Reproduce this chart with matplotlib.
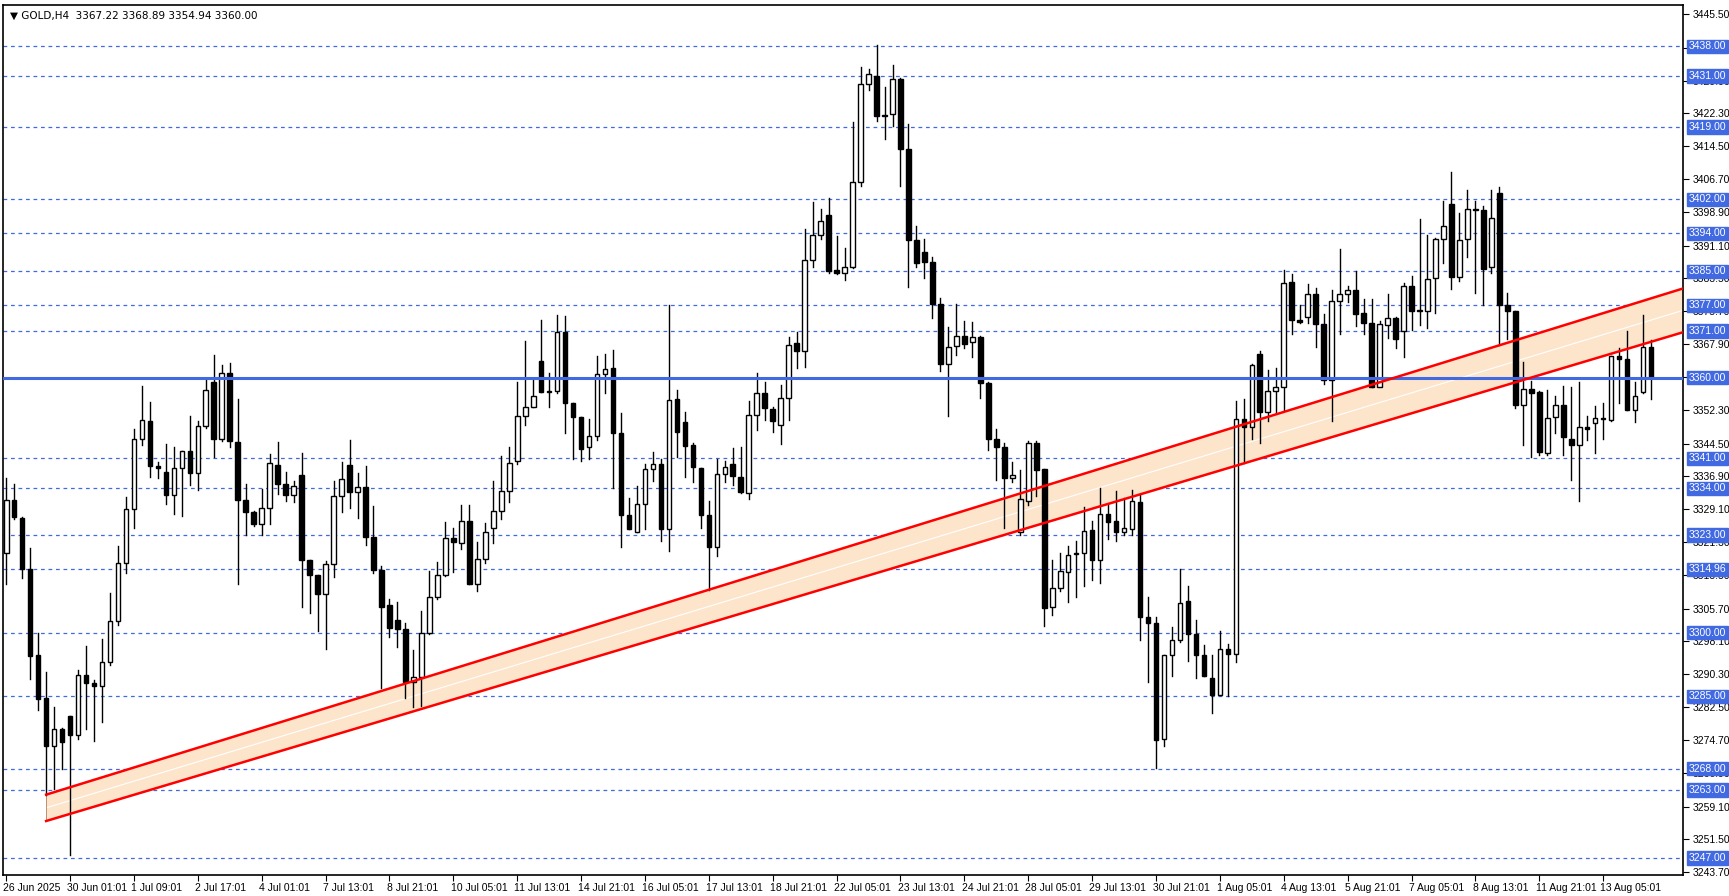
import matplotlib
matplotlib.use("Agg")
import matplotlib.pyplot as plt
import matplotlib.transforms as mtransforms
from matplotlib.patches import Rectangle

plt.rcParams['font.family'] = ['Liberation Sans', 'DejaVu Sans']

# GOLD H4 candles: open, high, low, close
candles = [
    (3318.7, 3336.5, 3311.4, 3331.2), (3331.2, 3334.9, 3326.8, 3327.3), (3327.0, 3327.2, 3312.8, 3315.0),
    (3315.0, 3319.9, 3289.1, 3294.6), (3294.8, 3299.9, 3281.8, 3284.4), (3284.6, 3290.7, 3261.9, 3273.4),
    (3273.4, 3282.6, 3263.2, 3277.3), (3277.3, 3277.5, 3268.0, 3274.3), (3280.4, 3280.5, 3247.8, 3275.9),
    (3275.9, 3291.3, 3275.1, 3290.1), (3290.1, 3296.8, 3277.3, 3288.1), (3288.1, 3288.8, 3274.5, 3287.5),
    (3287.5, 3298.6, 3279.0, 3293.1), (3293.1, 3309.3, 3292.3, 3302.7), (3302.7, 3320.4, 3301.8, 3316.4),
    (3316.4, 3332.0, 3314.0, 3329.0), (3329.0, 3348.0, 3324.7, 3345.6), (3345.6, 3358.0, 3344.2, 3350.0),
    (3349.9, 3354.3, 3336.7, 3339.3), (3339.3, 3340.1, 3336.5, 3338.7), (3337.9, 3344.4, 3330.4, 3332.3),
    (3332.3, 3343.6, 3328.0, 3338.7), (3338.7, 3342.8, 3327.4, 3342.7), (3342.7, 3350.9, 3334.7, 3337.7),
    (3337.7, 3349.9, 3333.7, 3348.6), (3348.6, 3359.6, 3348.2, 3357.0), (3359.0, 3365.3, 3341.3, 3345.7),
    (3345.7, 3363.0, 3345.0, 3361.0), (3361.0, 3363.4, 3343.6, 3345.0), (3344.8, 3355.1, 3311.4, 3331.2),
    (3331.2, 3334.9, 3323.1, 3328.5), (3328.5, 3328.6, 3325.1, 3325.7), (3325.7, 3333.8, 3323.1, 3329.4),
    (3329.4, 3342.0, 3325.7, 3339.9), (3339.5, 3344.9, 3332.7, 3334.9), (3334.9, 3337.9, 3331.1, 3332.5),
    (3332.5, 3335.7, 3330.7, 3334.6), (3337.1, 3342.3, 3306.1, 3317.0), (3317.0, 3317.1, 3304.7, 3313.5),
    (3313.5, 3313.6, 3300.4, 3309.2), (3309.2, 3316.9, 3296.1, 3316.1), (3316.1, 3335.8, 3313.0, 3332.1),
    (3332.1, 3340.1, 3328.4, 3336.1), (3339.5, 3345.4, 3329.3, 3333.0), (3333.0, 3337.5, 3326.9, 3334.4),
    (3334.4, 3339.2, 3320.7, 3322.5), (3322.5, 3329.8, 3314.1, 3314.8), (3314.8, 3315.6, 3286.9, 3306.1),
    (3306.5, 3307.9, 3299.1, 3301.2), (3302.9, 3307.3, 3296.7, 3300.8), (3300.8, 3302.4, 3284.6, 3288.5),
    (3288.5, 3296.0, 3282.5, 3289.5), (3289.5, 3305.0, 3282.8, 3299.9), (3299.9, 3314.6, 3299.6, 3308.3),
    (3308.3, 3316.6, 3307.9, 3313.5), (3313.5, 3326.0, 3313.4, 3322.2), (3322.2, 3324.7, 3314.4, 3321.3),
    (3321.0, 3330.1, 3319.6, 3326.4), (3326.3, 3330.1, 3311.4, 3311.4), (3311.4, 3321.3, 3309.9, 3317.3),
    (3317.3, 3325.8, 3316.3, 3323.6), (3324.6, 3335.6, 3321.2, 3328.6), (3328.6, 3341.6, 3326.7, 3333.4),
    (3333.4, 3343.8, 3330.8, 3340.0), (3340.3, 3358.9, 3339.6, 3351.1), (3350.9, 3368.6, 3348.9, 3353.2),
    (3353.2, 3359.5, 3353.0, 3355.6), (3364.0, 3373.6, 3356.7, 3356.7), (3356.6, 3361.2, 3353.2, 3356.9),
    (3356.8, 3374.8, 3356.3, 3370.8), (3370.8, 3374.5, 3346.9, 3354.0), (3354.0, 3354.0, 3340.8, 3350.7),
    (3350.7, 3350.7, 3340.5, 3343.2), (3343.6, 3350.2, 3340.8, 3346.2), (3346.2, 3365.1, 3345.4, 3360.8),
    (3360.8, 3365.6, 3356.3, 3362.0), (3362.2, 3366.5, 3334.0, 3346.9), (3346.9, 3351.8, 3320.1, 3327.6),
    (3327.6, 3331.6, 3324.3, 3324.5), (3323.6, 3334.5, 3323.6, 3330.2), (3330.2, 3339.6, 3324.5, 3338.5),
    (3338.5, 3342.6, 3335.6, 3339.6), (3339.6, 3340.8, 3321.7, 3324.4), (3324.4, 3377.1, 3319.3, 3354.8),
    (3354.9, 3357.1, 3341.3, 3347.3), (3349.5, 3351.9, 3336.7, 3344.0), (3344.1, 3344.6, 3335.5, 3338.9),
    (3338.7, 3338.7, 3324.6, 3327.6), (3327.6, 3330.9, 3310.1, 3320.1), (3320.1, 3340.8, 3318.0, 3337.3),
    (3337.3, 3340.5, 3335.4, 3339.0), (3339.6, 3343.5, 3334.8, 3336.9), (3336.7, 3343.8, 3332.9, 3333.0),
    (3332.8, 3354.6, 3331.5, 3351.3), (3351.3, 3361.0, 3347.7, 3356.5), (3356.5, 3359.0, 3350.1, 3352.8),
    (3352.7, 3353.1, 3347.2, 3349.8), (3348.9, 3358.2, 3344.5, 3355.2), (3355.2, 3369.6, 3350.1, 3367.8),
    (3368.1, 3370.8, 3362.4, 3366.2), (3366.4, 3395.0, 3362.6, 3387.6), (3387.6, 3401.3, 3386.0, 3393.7),
    (3393.7, 3399.7, 3392.7, 3396.8), (3398.4, 3402.2, 3384.6, 3385.1), (3385.3, 3393.4, 3384.4, 3384.6),
    (3384.6, 3390.5, 3383.1, 3386.1), (3386.1, 3420.2, 3385.8, 3406.0), (3406.0, 3433.2, 3405.1, 3429.0),
    (3429.0, 3432.6, 3427.6, 3431.4), (3430.9, 3438.4, 3420.4, 3421.6), (3421.6, 3428.3, 3416.1, 3421.5),
    (3422.0, 3433.7, 3419.3, 3430.3), (3430.3, 3430.6, 3405.1, 3413.9), (3413.9, 3419.7, 3381.3, 3392.5),
    (3392.5, 3395.7, 3386.0, 3386.9), (3389.6, 3392.7, 3383.4, 3387.3), (3387.3, 3388.5, 3374.1, 3377.4),
    (3377.4, 3378.8, 3361.7, 3363.3), (3363.3, 3372.0, 3351.0, 3367.2), (3367.4, 3377.4, 3365.4, 3369.8),
    (3369.8, 3373.4, 3367.1, 3368.0), (3368.4, 3373.2, 3364.8, 3369.5), (3369.6, 3369.8, 3355.2, 3358.8),
    (3358.8, 3359.1, 3342.9, 3345.6), (3345.6, 3348.0, 3336.0, 3343.6), (3343.6, 3344.7, 3324.7, 3336.3),
    (3336.3, 3340.2, 3335.5, 3337.1), (3323.8, 3338.4, 3322.9, 3331.4), (3331.1, 3345.0, 3330.1, 3344.6),
    (3344.7, 3345.1, 3332.1, 3338.4), (3338.5, 3338.5, 3301.5, 3305.9), (3306.0, 3317.0, 3304.2, 3310.6),
    (3310.6, 3318.7, 3309.9, 3314.5), (3314.3, 3320.3, 3307.3, 3318.4), (3318.5, 3321.5, 3308.5, 3318.7),
    (3318.7, 3329.6, 3311.0, 3324.0), (3324.2, 3326.3, 3312.4, 3317.2), (3317.2, 3334.1, 3311.6, 3327.9),
    (3327.9, 3330.2, 3322.1, 3326.1), (3326.4, 3333.3, 3321.5, 3323.6), (3323.6, 3331.6, 3323.1, 3324.6),
    (3324.4, 3333.7, 3323.1, 3331.0), (3330.8, 3332.5, 3298.2, 3303.6), (3303.7, 3308.3, 3288.5, 3302.2),
    (3302.3, 3303.7, 3268.1, 3274.7), (3274.9, 3294.7, 3273.4, 3294.7), (3294.7, 3301.3, 3289.8, 3298.2),
    (3298.2, 3314.9, 3297.8, 3307.1), (3307.4, 3311.0, 3293.4, 3299.7), (3299.7, 3303.0, 3289.3, 3294.7),
    (3294.7, 3297.0, 3289.8, 3289.8), (3289.3, 3294.7, 3281.0, 3285.4), (3285.4, 3300.3, 3285.4, 3296.2),
    (3296.2, 3297.4, 3285.0, 3294.9), (3294.9, 3354.5, 3293.1, 3350.2), (3350.2, 3355.0, 3339.9, 3348.4),
    (3348.4, 3363.2, 3345.7, 3363.0), (3365.7, 3366.3, 3344.6, 3352.0), (3352.0, 3361.8, 3349.8, 3356.8),
    (3356.8, 3362.4, 3351.7, 3357.8), (3357.8, 3385.3, 3352.5, 3382.2), (3382.5, 3384.4, 3370.4, 3373.5),
    (3373.7, 3377.0, 3372.9, 3373.1), (3374.3, 3382.0, 3372.9, 3379.7), (3379.7, 3381.1, 3367.3, 3372.7),
    (3372.6, 3375.1, 3358.6, 3359.4), (3359.4, 3380.6, 3349.8, 3378.0), (3378.0, 3390.2, 3370.4, 3379.7),
    (3379.7, 3381.6, 3377.8, 3380.6), (3380.6, 3385.0, 3372.1, 3375.0), (3375.2, 3378.5, 3370.4, 3372.8),
    (3372.8, 3378.5, 3357.9, 3357.9), (3357.9, 3373.4, 3358.1, 3372.6), (3372.4, 3379.7, 3369.3, 3374.0),
    (3374.0, 3374.4, 3366.9, 3369.0), (3370.9, 3382.2, 3364.8, 3381.6), (3381.6, 3384.0, 3371.2, 3375.6),
    (3375.6, 3397.3, 3372.4, 3375.8), (3375.6, 3393.6, 3371.6, 3383.2), (3383.4, 3392.8, 3375.2, 3392.6),
    (3392.6, 3401.7, 3387.1, 3395.6), (3400.9, 3408.5, 3380.8, 3383.8), (3383.8, 3398.8, 3382.8, 3392.4),
    (3392.6, 3404.2, 3388.5, 3399.6), (3399.6, 3401.7, 3380.0, 3399.4), (3399.4, 3400.4, 3377.1, 3385.7),
    (3386.1, 3404.2, 3384.7, 3397.7), (3403.4, 3404.9, 3367.7, 3377.1), (3377.1, 3379.9, 3369.0, 3375.8),
    (3375.7, 3375.7, 3352.8, 3353.6), (3353.7, 3363.8, 3344.2, 3357.3), (3357.3, 3359.3, 3341.3, 3356.5),
    (3356.7, 3356.8, 3341.8, 3342.6), (3342.4, 3357.1, 3341.8, 3350.5), (3350.7, 3355.6, 3347.1, 3353.6),
    (3353.6, 3358.1, 3341.8, 3346.0), (3345.7, 3357.9, 3336.0, 3344.2), (3344.2, 3359.1, 3330.9, 3348.4),
    (3348.4, 3350.9, 3345.4, 3347.9), (3349.4, 3353.4, 3342.2, 3350.5), (3350.3, 3354.0, 3345.5, 3350.2),
    (3350.0, 3365.1, 3349.9, 3365.0), (3365.0, 3366.9, 3354.0, 3364.4), (3364.4, 3370.9, 3352.4, 3352.4),
    (3352.4, 3358.9, 3349.7, 3355.7), (3356.7, 3374.8, 3356.3, 3367.2), (3367.22, 3368.89, 3354.94, 3360.00),
]

time_labels = ["26 Jun 2025", "30 Jun 01:01", "1 Jul 09:01", "2 Jul 17:01", "4 Jul 01:01", "7 Jul 13:01",
               "8 Jul 21:01", "10 Jul 05:01", "11 Jul 13:01", "14 Jul 21:01", "16 Jul 05:01", "17 Jul 13:01",
               "18 Jul 21:01", "22 Jul 05:01", "23 Jul 13:01", "24 Jul 21:01", "28 Jul 05:01", "29 Jul 13:01",
               "30 Jul 21:01", "1 Aug 05:01", "4 Aug 13:01", "5 Aug 21:01", "7 Aug 05:01", "8 Aug 13:01",
               "11 Aug 21:01", "13 Aug 05:01"]
price_ticks = [3445.50, 3437.70, 3429.90, 3422.30, 3414.50, 3406.70, 3398.90, 3391.10, 3383.50, 3375.70,
               3367.90, 3360.10, 3352.30, 3344.50, 3336.90, 3329.10, 3321.30, 3313.50, 3305.70, 3298.10,
               3290.30, 3282.50, 3274.70, 3266.90, 3259.10, 3251.50, 3243.70]
levels = [3438.00, 3431.00, 3419.00, 3402.00, 3394.00, 3385.00, 3377.00, 3371.00, 3341.00, 3334.00,
          3323.00, 3314.96, 3300.00, 3285.00, 3268.00, 3263.00, 3247.00]
main_level = 3360.00
channel_x = [5, 210]
channel_top = [3261.9, 3381.0]
channel_bottom = [3255.7, 3370.7]

BLUE = "#4169e1"

fig = plt.figure(figsize=(17.29, 8.96), dpi=100)
ax = fig.add_axes([3 / 1729, 21 / 896, 1680 / 1729, 870 / 896])
ax.set_xlim(-0.4, 210)
ax.set_ylim(3243.0, 3447.7)

for lv in levels:
    ax.axhline(lv, color=BLUE, lw=0.9, ls=(0, (3, 3)), zorder=1)
ax.axhline(main_level, color=BLUE, lw=2.2, zorder=4)

# channel
ax.fill_between(channel_x, channel_bottom, channel_top, color="#fde5cc", zorder=2, lw=0)
mid = [(a + b) / 2 for a, b in zip(channel_top, channel_bottom)]
ax.plot(channel_x, mid, color="white", lw=0.8, zorder=2)
ax.plot(channel_x, channel_top, color="red", lw=1.8, zorder=5)
ax.plot(channel_x, channel_bottom, color="red", lw=1.8, zorder=5)
ax.plot([channel_x[0]] * 2, [channel_bottom[0], channel_top[0]], color="#b08060", lw=0.6, zorder=2)

w = 0.58
for i, (o, h, l, c) in enumerate(candles):
    ax.plot([i, i], [l, h], color="black", lw=1, zorder=3)
    lo, hi = min(o, c), max(o, c)
    face = "white" if c >= o else "black"
    ax.add_patch(Rectangle((i - w / 2, lo), w, max(hi - lo, 0.25), facecolor=face,
                           edgecolor="black", lw=1, zorder=3.5))

ax.yaxis.tick_right()
ax.set_yticks(price_ticks)
ax.set_yticklabels([f"{t:.2f}" for t in price_ticks], fontsize=7.5)
ax.set_xticks(range(0, 8 * len(time_labels), 8))
ax.set_xticklabels(time_labels, fontsize=7.5, ha="left")
ax.tick_params(axis="x", length=4, pad=2)
ax.tick_params(axis="y", length=4, pad=3)
offset = mtransforms.ScaledTranslation(-2 / 72, 0, fig.dpi_scale_trans)
for lab in ax.get_xticklabels():
    lab.set_transform(lab.get_transform() + offset)
for s in ax.spines.values():
    s.set_linewidth(1.2)

trans = mtransforms.blended_transform_factory(ax.transAxes, ax.transData)
for lv in levels + [main_level]:
    ax.text(1.0035, lv, f"{lv:.2f}", transform=trans, fontsize=7.5, color="white", va="center",
            ha="left", zorder=10, clip_on=False,
            bbox=dict(boxstyle="square,pad=0.15", fc=BLUE, ec=BLUE))

ax.text(0.004, 0.993, "\u25bc GOLD,H4  3367.22 3368.89 3354.94 3360.00", transform=ax.transAxes,
        fontsize=7.5, va="top", ha="left", family=['DejaVu Sans'])

fig.savefig("out.png", dpi=100)
